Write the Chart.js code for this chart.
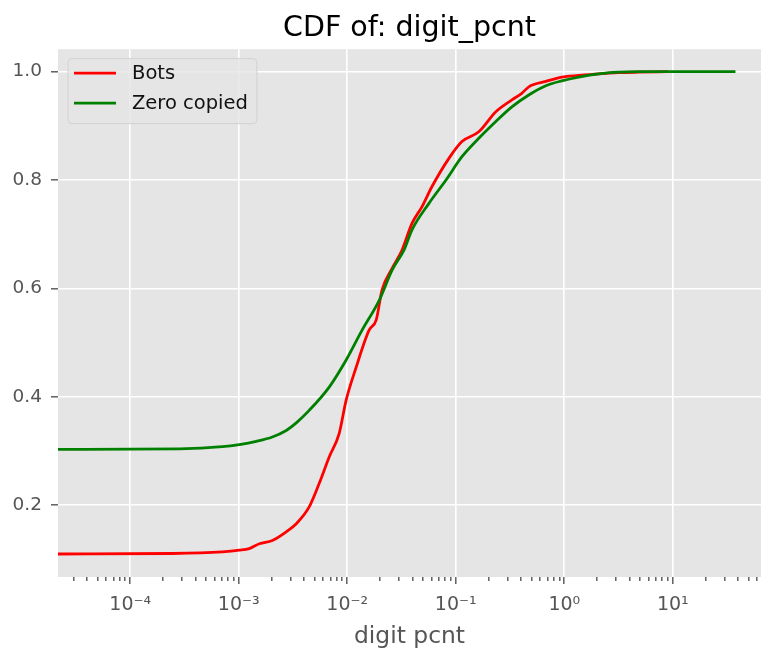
<!DOCTYPE html>
<html>
<head>
<meta charset="utf-8">
<script src="https://cdn.jsdelivr.net/npm/chart.js@4.4.1/dist/chart.umd.min.js"></script>
<style>
  body { margin: 0; background: #fff; }
  #wrap { width: 761px; height: 656px; }
</style>
</head>
<body>
<div id="wrap"><canvas id="cdf-chart" width="761" height="656"></canvas></div>
<script>
// CDF of digit_pcnt
const botsX = [2.14e-5, 2.45e-4, 7.06e-4, 1.013e-3, 1.25e-3, 1.55e-3, 2.04e-3, 2.74e-3, 3.39e-3, 4.46e-3,
  5.51e-3, 6.82e-3, 8.42e-3, 9.77e-3, 0.0121, 0.0159, 0.0185, 0.0209, 0.0259, 0.0320,
  0.0395, 0.0489, 0.0604, 0.0865, 0.114, 0.163, 0.234, 0.329, 0.406, 0.471,
  0.676, 0.949, 1.36, 2.08, 3.17, 4.84, 8.96];
const botsY = [0.110, 0.111, 0.114, 0.117, 0.120, 0.129, 0.135, 0.151, 0.166, 0.197,
  0.240, 0.289, 0.332, 0.394, 0.455, 0.523, 0.542, 0.597, 0.637, 0.671,
  0.720, 0.751, 0.788, 0.840, 0.871, 0.889, 0.926, 0.948, 0.960, 0.972,
  0.982, 0.990, 0.993, 0.996, 0.998, 0.999, 1.0];

const zeroX = [2.14e-5, 2.84e-4, 7.06e-4, 1.013e-3, 1.45e-3, 2.04e-3, 2.74e-3, 3.39e-3, 4.46e-3, 6.82e-3,
  9.77e-3, 0.0137, 0.0197, 0.0259, 0.0334, 0.0395, 0.0566, 0.0813, 0.114, 0.163,
  0.234, 0.329, 0.471, 0.676, 0.949, 1.36, 2.08, 3.17, 4.84, 37.8];
const zeroY = [0.303, 0.304, 0.308, 0.312, 0.318, 0.326, 0.338, 0.352, 0.375, 0.418,
  0.468, 0.523, 0.578, 0.634, 0.671, 0.708, 0.757, 0.800, 0.843, 0.877,
  0.908, 0.935, 0.957, 0.974, 0.983, 0.990, 0.996, 0.999, 1.0, 1.0];

const yTicks = [0.2, 0.4, 0.6, 0.8, 1.0];
const xDecades = [-5, -4, -3, -2, -1, 0, 1];

const toPoints = (xs, ys) => xs.map((x, i) => ({ x: x, y: ys[i] }));
const isMajor = v => Math.abs(Math.log10(v) - Math.round(Math.log10(v))) < 1e-9;
const supMap = { '0': '⁰', '1': '¹', '2': '²', '3': '³', '4': '⁴', '5': '⁵', '6': '⁶', '7': '⁷', '8': '⁸', '9': '⁹', '-': '⁻' };
const sup = s => String(s).split('').map(c => supMap[c]).join('');

// gray panel behind the plot
const panelBg = {
  id: 'panelBg',
  beforeDraw(chart) {
    const { ctx, chartArea: a } = chart;
    ctx.save();
    ctx.fillStyle = '#E5E5E5';
    ctx.fillRect(a.left, a.top, a.right - a.left, a.bottom - a.top);
    ctx.restore();
  }
};

// matplotlib style legend box in the upper left
const boxLegend = {
  id: 'boxLegend',
  afterDatasetsDraw(chart) {
    const { ctx, chartArea: a } = chart;
    const sets = chart.data.datasets;
    ctx.save();
    ctx.font = '19.5px "DejaVu Sans"';
    let w = 0;
    sets.forEach(d => { w = Math.max(w, ctx.measureText(d.label).width); });
    const x = a.left + 10, y = a.top + 9.5, bw = w + 73, bh = 65;
    ctx.fillStyle = 'rgba(229,229,229,0.8)';
    ctx.strokeStyle = '#D2D2D2';
    ctx.lineWidth = 1;
    ctx.beginPath();
    ctx.roundRect(x, y, bw, bh, 4);
    ctx.fill();
    ctx.stroke();
    sets.forEach((d, i) => {
      const cy = y + 14.5 + i * 30;
      ctx.strokeStyle = d.borderColor;
      ctx.lineWidth = 2.8;
      ctx.beginPath();
      ctx.moveTo(x + 6, cy);
      ctx.lineTo(x + 48, cy);
      ctx.stroke();
      ctx.fillStyle = '#111';
      ctx.textBaseline = 'middle';
      ctx.fillText(d.label, x + 64, cy + 1);
    });
    ctx.restore();
  }
};

const cdfCtx = document.getElementById('cdf-chart').getContext('2d');
const cdfChart = new Chart(cdfCtx, {
  type: 'scatter',
  data: {
    datasets: [{
      label: 'Bots',
      data: toPoints(botsX, botsY),
      showLine: true,
      borderColor: '#FF0000',
      backgroundColor: '#FF0000',
      borderWidth: 2.8,
      pointRadius: 0,
      cubicInterpolationMode: 'monotone',
      order: 1
    }, {
      label: 'Zero copied',
      data: toPoints(zeroX, zeroY),
      showLine: true,
      borderColor: '#008000',
      backgroundColor: '#008000',
      borderWidth: 2.8,
      pointRadius: 0,
      cubicInterpolationMode: 'monotone',
      order: 0
    }]
  },
  options: {
    responsive: false,
    animation: false,
    layout: { padding: 0 },
    plugins: {
      legend: { display: false },
      tooltip: { enabled: false },
      title: {
        display: true,
        text: 'CDF of: digit_pcnt',
        fullSize: false,
        color: '#000',
        font: { family: 'DejaVu Sans', size: 28.5, weight: 'normal' },
        padding: { top: 11, bottom: 4 }
      }
    },
    scales: {
      x: {
        type: 'logarithmic',
        min: 2.16e-5,
        max: 65,
        border: { display: false },
        afterBuildTicks(scale) {
          const ticks = [];
          xDecades.forEach(k => {
            for (let d = 1; d <= 9; d++) {
              const v = d * Math.pow(10, k);
              if (v >= scale.min && v <= scale.max) ticks.push({ value: v, major: d === 1 });
            }
          });
          scale.ticks = ticks;
        },
        afterFit(scale) {
          scale.height = 79;
          // the plot runs to the right edge of the picture
          scale.paddingLeft = 0;
          scale.paddingRight = 0;
        },
        ticks: {
          autoSkip: false,
          maxRotation: 0,
          padding: 10,
          color: '#555555',
          font: { family: 'DejaVu Sans', size: 19 },
          callback: v => isMajor(v) ? '10' + sup(Math.round(Math.log10(v))) : ''
        },
        grid: {
          color: c => (c.tick && isMajor(c.tick.value)) ? '#FFFFFF' : 'rgba(0,0,0,0)',
          lineWidth: 1.6,
          drawTicks: true,
          tickLength: 7,
          tickColor: '#555555',
          tickWidth: 1.4,
          tickBorderDash: c => (c.tick && isMajor(c.tick.value)) ? [] : [4, 100]
        },
        title: {
          display: true,
          text: 'digit pcnt',
          color: '#555555',
          font: { family: 'DejaVu Sans', size: 23.4 },
          padding: { top: 0, bottom: 5 }
        }
      },
      y: {
        min: 0.0676,
        max: 1.0414,
        border: { display: false },
        afterBuildTicks(scale) {
          scale.ticks = yTicks.map(v => ({ value: v }));
        },
        afterFit(scale) { scale.width = 58; },
        ticks: {
          padding: 9,
          color: '#555555',
          font: { family: 'DejaVu Sans', size: 18.5 },
          callback: v => v.toFixed(1)
        },
        grid: {
          color: '#FFFFFF',
          lineWidth: 1.6,
          tickLength: 7,
          tickColor: '#555555',
          tickWidth: 1.4
        }
      }
    }
  },
  plugins: [panelBg, boxLegend]
});
</script>
</body>
</html>
